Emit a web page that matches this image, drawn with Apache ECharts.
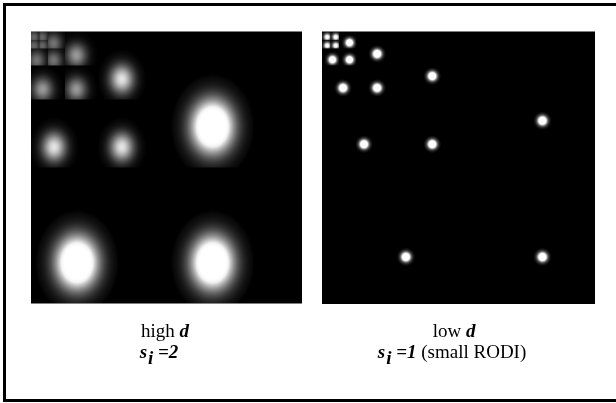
<!DOCTYPE html>
<html><head><meta charset="utf-8">
<script src="https://cdn.jsdelivr.net/npm/echarts@6/dist/echarts.min.js"></script>
<style>html,body{margin:0;padding:0;background:#fff}#c{width:616px;height:403px}</style>
</head><body><div id="c"></div>
<script>
// ---- Left panel (high d, s_i = 2): quadtree leaf cells + Gaussian blob in each (data units 0..256, y downward)
const leftCellX    = [128, 0, 128, 64, 0, 64, 32, 0, 32, 16, 0, 16, 8, 0, 8, 0];
const leftCellY    = [0, 128, 128, 0, 64, 64, 0, 32, 32, 0, 16, 16, 0, 8, 8, 0];
const leftCellSize = [128, 128, 128, 64, 64, 64, 32, 32, 32, 16, 16, 16, 8, 8, 8, 8];
const leftBlobX  = [171.5, 43.5, 171.5, 85.8, 21.8, 85.8, 42.9, 10.9, 42.9, 21.4, 5.4, 21.4, 10.7, 2.7, 10.7, 2.7];
const leftBlobY  = [89.6, 217.6, 217.6, 44.8, 108.8, 108.8, 22.4, 54.4, 54.4, 11.2, 27.2, 27.2, 5.6, 13.6, 13.6, 5.6];
const leftSigmaX = [13.2, 13.2, 13.2, 7.8, 7.8, 7.8, 6.8, 6.8, 6.8, 5.7, 5.7, 5.7, 4.3, 4.3, 4.3, 4.3];
const leftSigmaY = [16.5, 16.5, 16.5, 9.4, 9.4, 9.4, 7.8, 7.8, 7.8, 6.6, 6.6, 6.6, 4.7, 4.7, 4.7, 4.7];
const leftPeak   = [1.8, 1.8, 1.8, 0.9, 0.9, 0.9, 0.6, 0.6, 0.6, 0.45, 0.45, 0.45, 0.4, 0.4, 0.4, 0.4];

// ---- Right panel (low d, s_i = 1, small RODI)
const rightCellX    = [128, 0, 128, 64, 0, 64, 32, 0, 32, 16, 0, 16, 8, 0, 8, 0];
const rightCellY    = [0, 128, 128, 0, 64, 64, 0, 32, 32, 0, 16, 16, 0, 8, 8, 0];
const rightCellSize = [128, 128, 128, 64, 64, 64, 32, 32, 32, 16, 16, 16, 8, 8, 8, 8];
const rightBlobX  = [206.7, 78.7, 206.7, 103.4, 39.4, 103.4, 51.7, 19.7, 51.7, 25.8, 9.8, 25.8, 12.9, 4.9, 12.9, 4.9];
const rightBlobY  = [83.8, 211.8, 211.8, 41.9, 105.9, 105.9, 21.0, 53.0, 53.0, 10.5, 26.5, 26.5, 5.2, 13.2, 13.2, 5.2];
const rightSigmaX = [2.9, 2.9, 2.9, 2.8, 2.8, 2.8, 2.8, 2.8, 2.8, 2.6, 2.6, 2.6, 2.2, 2.2, 2.2, 2.2];
const rightSigmaY = [2.9, 2.9, 2.9, 2.8, 2.8, 2.8, 2.8, 2.8, 2.8, 2.6, 2.6, 2.6, 2.2, 2.2, 2.2, 2.2];
const rightPeak   = [2.0, 2.0, 2.0, 2.0, 2.0, 2.0, 2.0, 2.0, 2.0, 1.8, 1.8, 1.8, 1.2, 1.2, 1.2, 1.2];

// ---- Caption texts
const leftCaptionWord = 'high';
const leftCaptionVar = 'd';
const leftScale = '2';
const rightCaptionWord = 'low';
const rightCaptionVar = 'd';
const rightScale = '1';
const rightNote = '(small RODI)';

function rows(cx, cy, cs, bx, by, sx, sy, pk) {
  return cx.map((v, i) => [v, cy[i], cs[i], bx[i], by[i], sx[i], sy[i], pk[i]]);
}

function gaussFill(peak) {
  const stops = [];
  const n = 16;
  for (let i = 0; i <= n; i++) {
    const t = i / n;
    const a = Math.min(1, peak * Math.exp(-(3 * t) * (3 * t) / 2));
    stops.push({ offset: t, color: 'rgba(255,255,255,' + a.toFixed(4) + ')' });
  }
  stops[n].color = 'rgba(255,255,255,0)';
  return { type: 'radial', x: 0.5, y: 0.5, r: 0.5, colorStops: stops };
}

function renderBlob(params, api) {
  const x0 = api.value(0), y0 = api.value(1), s = api.value(2);
  const p0 = api.coord([x0, y0]);
  const p1 = api.coord([x0 + s, y0 + s]);
  const c = api.coord([api.value(3), api.value(4)]);
  const sz = api.size([api.value(5), api.value(6)]);
  const R = 3 * sz[0];
  return {
    type: 'group',
    clipPath: {
      type: 'rect',
      shape: {
        x: Math.min(p0[0], p1[0]), y: Math.min(p0[1], p1[1]),
        width: Math.abs(p1[0] - p0[0]), height: Math.abs(p1[1] - p0[1])
      }
    },
    children: [{
      type: 'circle',
      x: c[0], y: c[1],
      scaleX: 1, scaleY: sz[1] / sz[0],
      shape: { cx: 0, cy: 0, r: R },
      style: { fill: gaussFill(api.value(7)) }
    }]
  };
}

const FONT = 'Liberation Serif';
const rich = {
  n:   { fontFamily: FONT, fontSize: 19, color: '#000', verticalAlign: 'top' },
  bi:  { fontFamily: FONT, fontSize: 19, fontStyle: 'italic', fontWeight: 'bold', color: '#000', verticalAlign: 'top' },
  sub: { fontFamily: FONT, fontSize: 19, fontStyle: 'italic', fontWeight: 'bold', color: '#000', verticalAlign: 'top', padding: [6, 0, 0, 1] }
};

const axisX = (i) => ({ type: 'value', gridIndex: i, min: 0, max: 256, show: false });
const axisY = (i) => ({ type: 'value', gridIndex: i, min: 0, max: 256, inverse: true, show: false });

const chart = echarts.init(document.getElementById('c'), null, { renderer: 'canvas' });
chart.setOption({
  animation: false,
  backgroundColor: '#fff',
  grid: [
    { left: 31, top: 31.5, width: 271, height: 272, show: true, backgroundColor: '#000', borderWidth: 0 },
    { left: 322, top: 31.5, width: 273, height: 272.5, show: true, backgroundColor: '#000', borderWidth: 0 }
  ],
  xAxis: [axisX(0), axisX(1)],
  yAxis: [axisY(0), axisY(1)],
  series: [
    { type: 'custom', xAxisIndex: 0, yAxisIndex: 0, renderItem: renderBlob, silent: true,
      data: rows(leftCellX, leftCellY, leftCellSize, leftBlobX, leftBlobY, leftSigmaX, leftSigmaY, leftPeak) },
    { type: 'custom', xAxisIndex: 1, yAxisIndex: 1, renderItem: renderBlob, silent: true,
      data: rows(rightCellX, rightCellY, rightCellSize, rightBlobX, rightBlobY, rightSigmaX, rightSigmaY, rightPeak) }
  ],
  graphic: [
    { type: 'rect', silent: true, shape: { x: 4.5, y: 4.5, width: 640, height: 396 },
      style: { fill: 'none', stroke: '#000', lineWidth: 3 } },
    { type: 'text', x: 165, y: 322.5, silent: true,
      style: { text: '{n|' + leftCaptionWord + ' }{bi|' + leftCaptionVar + '}', rich: rich, align: 'center', verticalAlign: 'top' } },
    { type: 'text', x: 159, y: 344, silent: true,
      style: { text: '{bi|s}{sub|i}{bi| =' + leftScale + '}', rich: rich, align: 'center', verticalAlign: 'top' } },
    { type: 'text', x: 454, y: 322.5, silent: true,
      style: { text: '{n|' + rightCaptionWord + ' }{bi|' + rightCaptionVar + '}', rich: rich, align: 'center', verticalAlign: 'top' } },
    { type: 'text', x: 452, y: 344, silent: true,
      style: { text: '{bi|s}{sub|i}{bi| =' + rightScale + ' }{n|' + rightNote + '}', rich: rich, align: 'center', verticalAlign: 'top' } }
  ]
});
</script>
</body></html>
